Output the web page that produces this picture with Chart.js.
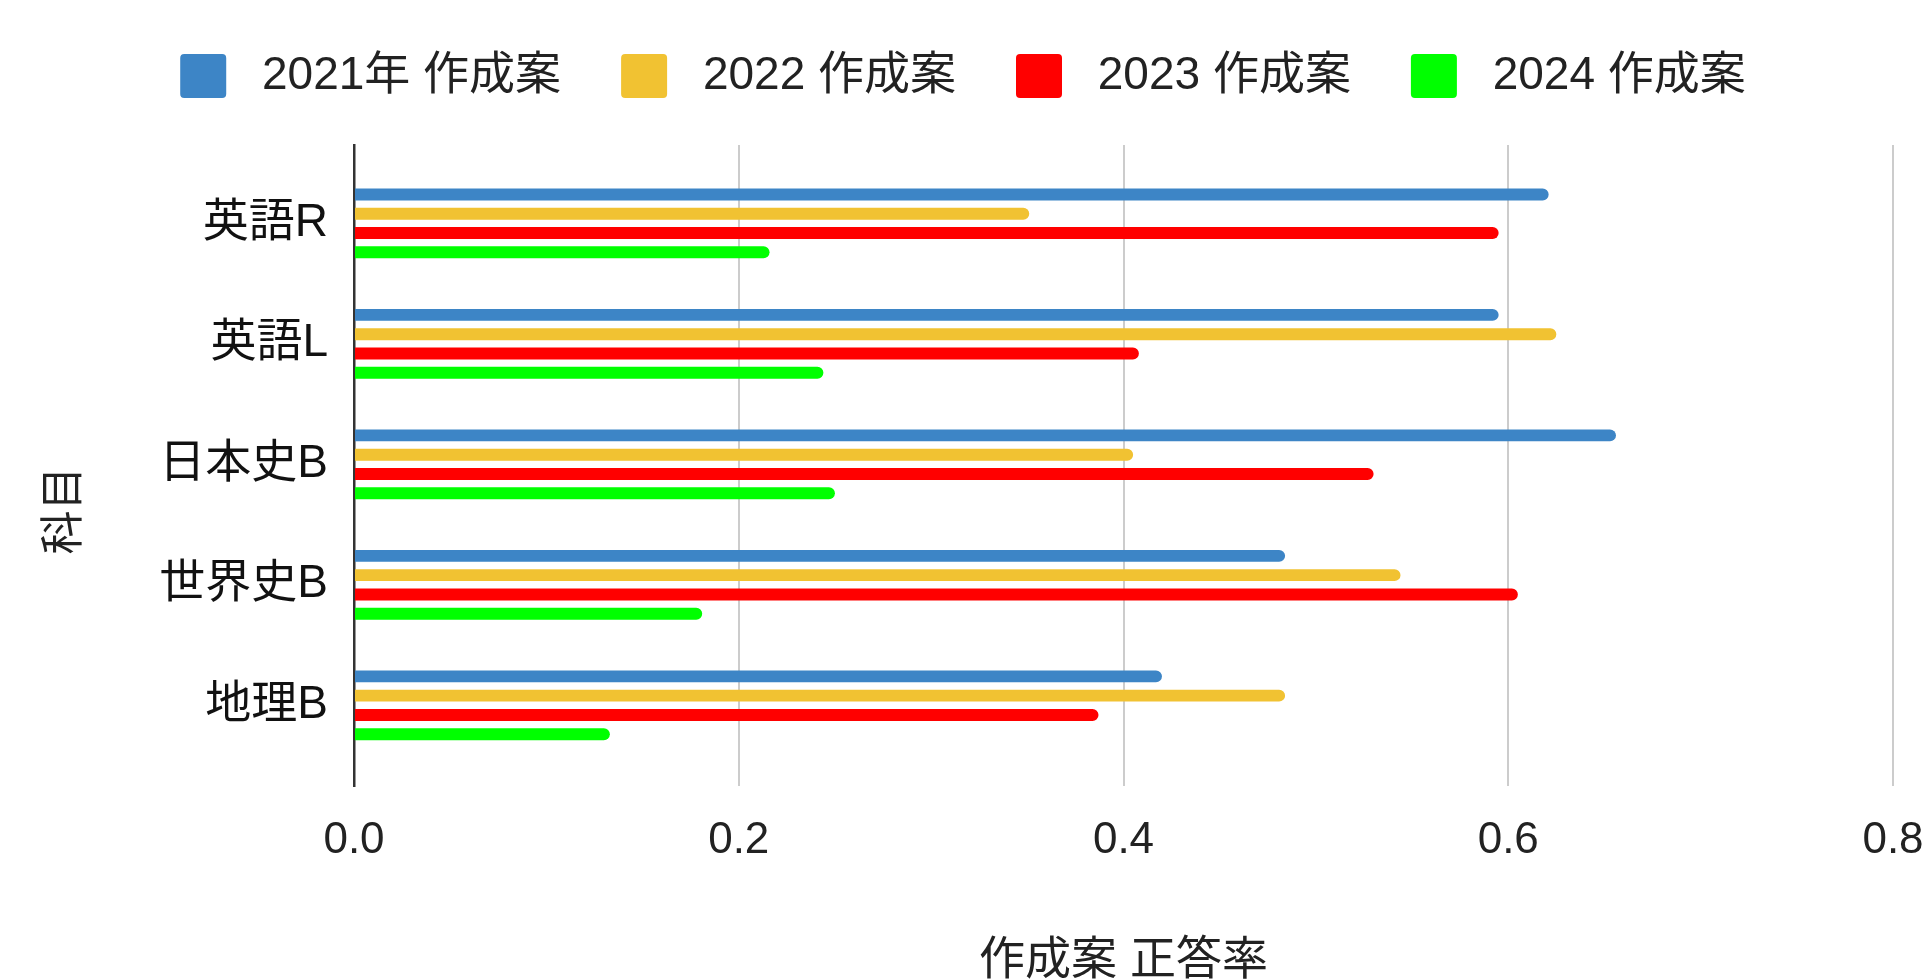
<!DOCTYPE html>
<html lang="ja">
<head>
<meta charset="utf-8">
<title>作成案 正答率</title>
<script src="https://cdn.jsdelivr.net/npm/chart.js@4.4.1/dist/chart.umd.min.js"></script>
<style>
  html, body { margin: 0; padding: 0; background: #ffffff; }
  #wrap { position: relative; width: 1926px; height: 979px; }
</style>
</head>
<body>
<div id="wrap"><canvas id="chart"></canvas></div>
<script>
// Subjects (category axis, top to bottom)
const subjects = ['英語R', '英語L', '日本史B', '世界史B', '地理B'];

// Series names
const seriesNames = ['2021年 作成案', '2022 作成案', '2023 作成案', '2024 作成案'];

// Correct-answer rate per subject, one array per year
const rate2021 = [0.621, 0.595, 0.656, 0.484, 0.420];
const rate2022 = [0.351, 0.625, 0.405, 0.544, 0.484];
const rate2023 = [0.595, 0.408, 0.530, 0.605, 0.387];
const rate2024 = [0.216, 0.244, 0.250, 0.181, 0.133];

// Value axis ticks
const xTicks = [0.0, 0.2, 0.4, 0.6, 0.8];

const seriesColors = ['#3d85c6', '#f1c232', '#ff0000', '#00ff00'];
const fontFamily = "'Liberation Sans', 'Noto Sans CJK JP', sans-serif";

const seriesValues = [rate2021, rate2022, rate2023, rate2024];

const datasets = seriesValues.map((values, s) => ({
  label: seriesNames[s],
  data: values.map((v, i) => ({ x: v, y: i })),
  backgroundColor: seriesColors[s],
  borderWidth: 0,
  borderRadius: 6,
  categoryPercentage: 0.64,
  barPercentage: 0.62
}));

// Extra space between the legend row and the plot area
const legendGap = {
  id: 'legendGap',
  beforeLayout(chart, args, opts) {
    const legend = chart.legend;
    if (legend && !legend._gapPatched) {
      const fit = legend.fit;
      legend.fit = function () { fit.call(this); this.height += opts.extra; };
      legend._gapPatched = true;
    }
  }
};

// Rotated title for the subject axis
const sideTitle = {
  id: 'sideTitle',
  afterDraw(chart, args, opts) {
    const { ctx, chartArea } = chart;
    ctx.save();
    ctx.font = `${opts.size}px ${fontFamily}`;
    ctx.fillStyle = opts.color;
    ctx.textAlign = 'center';
    ctx.textBaseline = 'middle';
    ctx.translate(opts.x, (chartArea.top + chartArea.bottom) / 2 + opts.shift);
    ctx.rotate(-Math.PI / 2);
    ctx.fillText(opts.text, 0, 0);
    ctx.restore();
  }
};

new Chart(document.getElementById('chart'), {
  type: 'bar',
  data: { datasets },
  plugins: [legendGap, sideTitle],
  options: {
    indexAxis: 'y',
    responsive: true,
    maintainAspectRatio: false,
    animation: false,
    layout: { padding: { top: -7, right: 0, bottom: 0, left: 0 } },
    scales: {
      x: {
        type: 'linear',
        position: 'bottom',
        min: xTicks[0],
        max: xTicks[xTicks.length - 1],
        afterBuildTicks: scale => { scale.ticks = xTicks.map(v => ({ value: v })); },
        ticks: {
          callback: v => Number(v).toFixed(1),
          color: '#222222',
          font: { family: fontFamily, size: 44 },
          padding: 28,
          maxRotation: 0
        },
        grid: { color: '#cccccc', lineWidth: 2, drawTicks: false },
        border: { display: false },
        title: {
          display: true,
          text: '作成案 正答率',
          color: '#222222',
          font: { family: fontFamily, size: 46, lineHeight: 1 },
          padding: { top: 0, bottom: -5 }
        },
        afterFit: scale => {
          scale.height = 193;
          scale.paddingLeft = 0;
          scale.paddingRight = 33;
        }
      },
      y: {
        type: 'linear',
        position: 'left',
        reverse: true,
        offset: false,
        min: -0.65,
        max: 4.67,
        z: 1,
        ticks: {
          stepSize: 1,
          includeBounds: false,
          autoSkip: false,
          callback: v => (Number.isInteger(v) && subjects[v] !== undefined) ? subjects[v] : '',
          color: '#111111',
          font: { family: fontFamily, size: 46 },
          padding: 26
        },
        grid: { display: false, drawTicks: false },
        border: { display: true, color: '#333333', width: 2.5 },
        afterFit: scale => {
          scale.width = 354;
          scale.paddingTop = 0;
          scale.paddingBottom = 0;
        }
      }
    },
    plugins: {
      tooltip: { enabled: false },
      legendGap: { extra: 36 },
      sideTitle: { text: '科目', x: 66, shift: 45, size: 44, color: '#222222' },
      legend: {
        position: 'top',
        align: 'center',
        labels: {
          boxWidth: 46,
          boxHeight: 44,
          padding: 60,
          useBorderRadius: true,
          borderRadius: 4,
          color: '#222222',
          font: { family: fontFamily, size: 46 },
          generateLabels: chart =>
            Chart.defaults.plugins.legend.labels.generateLabels(chart)
              .map(item => ({ ...item, text: ' ' + item.text }))
        }
      }
    }
  }
});
</script>
</body>
</html>
